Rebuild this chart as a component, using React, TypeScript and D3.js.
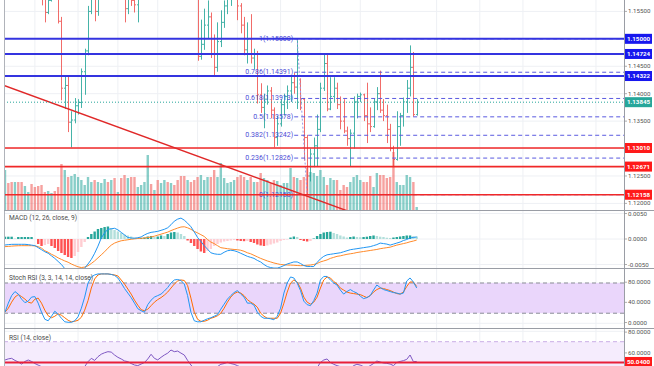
import React from "react";
import * as d3 from "d3";

// price bars (open = previous close)
const firstOpen = 1.16;
const closes = [
  1.1605, 1.1598, 1.1592, 1.1606, 1.16, 1.1594, 1.1602, 1.1608, 1.16, 1.1594,
  1.1588, 1.1575, 1.1548, 1.157, 1.1585, 1.158, 1.1532, 1.141, 1.1415, 1.1348,
  1.1352, 1.1378, 1.1384, 1.144, 1.1478, 1.155, 1.1586, 1.155, 1.159, 1.1602,
  1.1615, 1.1608, 1.162, 1.161, 1.1618, 1.1585, 1.1555, 1.1578, 1.157, 1.1562,
  1.158, 1.1592, 1.16, 1.1625, 1.1612, 1.1622, 1.1615, 1.1628, 1.1638, 1.1632,
  1.1645, 1.164, 1.1632, 1.162, 1.1605, 1.1612, 1.1598, 1.1585, 1.1468, 1.149,
  1.1525, 1.154, 1.15, 1.1448, 1.1495, 1.153, 1.156, 1.1575, 1.159, 1.16,
  1.156, 1.1525, 1.148, 1.15, 1.1465, 1.1472, 1.1398, 1.1375, 1.139, 1.1405,
  1.137, 1.132, 1.1345, 1.138, 1.1395, 1.1405, 1.142, 1.1412, 1.1432, 1.139,
  1.132, 1.125, 1.129, 1.1305, 1.1335, 1.141, 1.1455, 1.1372, 1.1395, 1.141,
  1.138, 1.135, 1.1332, 1.1318, 1.1328, 1.1385, 1.1395, 1.1398, 1.136, 1.1345,
  1.134, 1.1385, 1.14, 1.137, 1.136, 1.1335, 1.13, 1.128, 1.134, 1.136,
  1.1385, 1.141, 1.1448, 1.1362, 1.13845,
];
const highs = [
  1.1615, 1.161, 1.1604, 1.1612, 1.1612, 1.1606, 1.1608, 1.1615, 1.1612, 1.1604,
  1.1598, 1.1592, 1.1578, 1.158, 1.1595, 1.1592, 1.1585, 1.154, 1.1432, 1.1432,
  1.1368, 1.1392, 1.139, 1.1446, 1.1482, 1.156, 1.1595, 1.1598, 1.1605, 1.1615,
  1.1625, 1.1622, 1.163, 1.1624, 1.1626, 1.162, 1.159, 1.1585, 1.1592, 1.158,
  1.159, 1.1598, 1.161, 1.1632, 1.163, 1.163, 1.1632, 1.1636, 1.1645, 1.1648,
  1.1652, 1.1655, 1.165, 1.164, 1.1628, 1.162, 1.1618, 1.1605, 1.159, 1.1535,
  1.1555, 1.157, 1.1548, 1.1508, 1.153, 1.1552, 1.157, 1.159, 1.1605, 1.1615,
  1.1605, 1.1565, 1.154, 1.153, 1.1545, 1.1482, 1.1478, 1.1419, 1.14, 1.1415,
  1.1412, 1.1375, 1.136, 1.139, 1.14, 1.1415, 1.1432, 1.1438, 1.15, 1.1428,
  1.1392, 1.1325, 1.13, 1.132, 1.1362, 1.142, 1.1474, 1.1474, 1.143, 1.143,
  1.142, 1.1395, 1.139, 1.134, 1.1335, 1.1395, 1.14, 1.1402, 1.14, 1.142,
  1.1375, 1.1392, 1.1412, 1.1442, 1.139, 1.138, 1.1345, 1.1305, 1.1368, 1.1365,
  1.1393, 1.1425, 1.1488, 1.1476, 1.139,
];
const lows = [
  1.1595, 1.159, 1.1586, 1.1588, 1.1594, 1.1585, 1.1588, 1.1598, 1.1592, 1.1586,
  1.158, 1.1561, 1.153, 1.1545, 1.1568, 1.1572, 1.1528, 1.1388, 1.1372, 1.133,
  1.1302, 1.1346, 1.1362, 1.1374, 1.1398, 1.147, 1.1545, 1.1532, 1.1542, 1.158,
  1.1592, 1.1596, 1.16, 1.159, 1.1598, 1.1575, 1.153, 1.1545, 1.156, 1.1548,
  1.153, 1.1575, 1.1582, 1.1595, 1.16, 1.1605, 1.1605, 1.1612, 1.162, 1.1622,
  1.1628, 1.163, 1.1622, 1.161, 1.1595, 1.1592, 1.1585, 1.1576, 1.146, 1.1462,
  1.148, 1.15, 1.1465, 1.1433, 1.144, 1.1485, 1.152, 1.1545, 1.156, 1.1575,
  1.1534, 1.151, 1.147, 1.1455, 1.1455, 1.1445, 1.1382, 1.1365, 1.1337, 1.138,
  1.1355, 1.1302, 1.1305, 1.134, 1.136, 1.1372, 1.1385, 1.14, 1.1372, 1.137,
  1.1278, 1.12158, 1.124, 1.1266, 1.1268, 1.133, 1.1405, 1.1368, 1.137, 1.1385,
  1.1372, 1.1335, 1.1328, 1.1305, 1.1268, 1.13, 1.1355, 1.1385, 1.135, 1.131,
  1.133, 1.1338, 1.137, 1.1365, 1.135, 1.131, 1.1295, 1.1266, 1.1278, 1.1305,
  1.134, 1.1365, 1.1395, 1.1358, 1.136,
];
const volumes = [
  40, 27, 28, 28, 28, 28, 24, 18, 26, 23, 24, 25, 18, 19, 17, 19, 23, 46, 40, 33,
  34, 36, 33, 30, 25, 33, 28, 30, 28, 27, 31, 28, 30, 32, 18, 32, 35, 32, 33, 33,
  23, 25, 28, 55, 26, 20, 30, 27, 30, 28, 27, 25, 30, 34, 34, 30, 28, 30, 33, 35,
  30, 33, 33, 40, 33, 47, 32, 27, 28, 30, 33, 35, 33, 30, 33, 28, 28, 37, 32, 30,
  27, 30, 29, 25, 27, 27, 42, 33, 32, 30, 33, 42, 38, 37, 34, 40, 33, 25, 32, 30,
  30, 20, 25, 23, 28, 33, 35, 30, 28, 28, 34, 23, 37, 35, 35, 32, 33, 58, 28, 25,
  25, 35, 33, 28, 3,
];

// MACD (12, 26, close, 9), values x 1e-4
const macdLine = [
  -11.8, -11, -10.5, -10.4, -10.4, -10.4, -10.4, -11, -12, -13,
  -17, -21, -25, -28, -33, -38, -44, -50, -58, -66,
  -72, -73, -70, -64, -57, -49, -40, -28, -14, 2,
  12, 19, 20, 21, 18, 13, 8, 3, 2, 1.5,
  2.5, 4, 8, 11, 13, 14, 15, 17, 19, 22,
  28, 35, 39, 41, 37, 31, 24, 14, 3, -5,
  -13, -20, -27, -29, -30, -30, -26, -23, -22, -23,
  -25, -28, -31, -34, -36, -38, -42, -45, -50, -54,
  -56, -57, -57, -55, -52, -49, -47, -45, -45, -48,
  -52, -54, -54, -54, -46, -39, -34, -31, -30, -29,
  -28, -27, -25, -23, -21, -20, -19, -18, -17, -16,
  -15, -13, -11, -8, -9, -10, -12, -10, -8, -6,
  -3, -1, 2, 3, 4,
];
const signalLine = [
  -15, -14.5, -14, -13.5, -13.2, -13.1, -13.1, -13.1, -13.1, -13.5,
  -15, -18, -23, -26, -30, -33, -37, -40, -43, -45.5,
  -49, -52, -54.5, -56, -55, -52.5, -48, -43, -37, -31,
  -25, -18, -12, -8, -5.5, -3.5, -2.5, -1.5, -0.5, 0.3,
  1, 1.5, 2, 2.7, 4, 5.5, 7.5, 9.5, 11.5, 13.5,
  16.5, 19, 21.5, 23.5, 24, 22, 19, 15, 12, 8.5,
  5, -1, -6, -9, -13, -17, -18, -19, -19.8, -20.5,
  -21, -22, -24, -27, -29, -32, -35, -38, -40.5, -43,
  -45, -47, -48.5, -50, -50.5, -51, -51.2, -51.5, -52, -52.3,
  -52, -51.5, -51, -50, -48, -45, -43, -41, -38, -36,
  -34, -33, -31.5, -30, -29, -28, -26.5, -25.5, -24.5, -23.5,
  -22.5, -21.5, -20.5, -19, -18, -17, -16, -14, -12, -10.5,
  -9, -7.5, -5.5, -4, -2,
];
const macdHist = [
  4.5, 4.5, 4.5, 1, 3.9, 3.9, 3.9, 3.9, 3.9, 0,
  -9.8, -13.7, -11.8, -9.8, -13.7, -17.6, -23.5, -27.4, -31.4, -35.3,
  -37.2, -33.3, -25.5, -15.7, -5.9, 3.9, 9.8, 14.7, 19.6, 21.6,
  23.5, 24.5, 21.6, 17.6, 14.7, 11.8, 8.8, 6.9, 4.9, 2.9,
  1.6, 2, 2.9, 4.9, 5.9, 3.9, 4.9, 6.9, 5.9, 9.8,
  12.7, 13.7, 12.7, 9.8, 5.9, -2.9, -7.8, -13.7, -19.6, -24.5,
  -27.4, -23.5, -19.6, -13.7, -9.8, -6.9, -4.9, -3.9, -2.9, -2,
  -2.9, -3.9, -4.3, -3.9, -5.9, -7.8, -10.8, -12.7, -13.7, -12.7,
  -10.8, -8.8, -6.9, -3.9, -2, -1, 2.9, 4.9, 3.9, -2,
  -3.9, -4.9, -3.9, 1, 5.9, 9.8, 12.7, 13.7, 14.3, 11.8,
  9.8, 6.9, 4.9, 2.9, 3.9, 4.9, 3.9, 3.5, 3.9, 4.5,
  5.9, 6.9, 5.9, 4.5, 3.9, 2.5, 2, 2.9, 3.9, 4.9,
  5.9, 6.9, 6.9, 5.5, 4.9,
];

// Stoch RSI (3, 3, 14, 14, close)
const stochK = [
  22, 40, 55, 63, 58, 48, 41, 44, 52, 53, 40, 22, 8, 5, 14, 24, 18, 10, 3, 2,
  2, 5, 13, 30, 52, 80, 92, 96, 98, 98, 98, 98, 97, 95, 90, 80, 69, 60, 51, 40,
  29, 25, 22, 37, 46, 52, 55, 58, 64, 71, 80, 86, 87, 85, 78, 55, 22, 5, 3, 3,
  6, 9, 11, 14, 17, 28, 38, 48, 55, 61, 65, 58, 52, 40, 40, 36, 22, 14, 10, 10,
  9, 7, 14, 30, 60, 80, 92, 90, 80, 65, 44, 37, 35, 45, 60, 86, 93, 93, 86, 80,
  76, 66, 58, 63, 67, 63, 60, 54, 49, 51, 55, 66, 76, 71, 67, 65, 63, 61, 60, 58,
  60, 84, 90, 82, 70,
];
const stochD = [
  22, 30, 42, 52, 57, 53, 48, 42, 40, 48, 50, 40, 26, 15, 11, 14, 19, 16, 11, 6,
  3, 4, 6, 12, 26, 45, 70, 88, 96, 98, 98, 98, 97, 96, 94, 86, 78, 68, 58, 46,
  36, 27, 25, 28, 35, 42, 47, 51, 56, 62, 70, 78, 84, 86, 85, 75, 50, 22, 8, 4,
  4, 6, 10, 12, 15, 20, 30, 42, 52, 59, 62, 60, 55, 47, 42, 38, 32, 20, 14, 10,
  10, 10, 10, 20, 40, 62, 80, 86, 82, 70, 52, 42, 38, 42, 52, 70, 86, 92, 90, 83,
  78, 70, 66, 62, 60, 59, 58, 57, 54, 51, 55, 62, 67, 70, 69, 67, 65, 62, 59, 58,
  62, 73, 82, 82, 73,
];

// RSI (14, close)
const rsiLine = [
  52.4, 53.5, 54, 52, 50.5, 48.5, 51, 52.4, 51, 49, 47.5, 46, 45, 45.5, 46, 44, 42, 37, 38, 36,
  37, 39, 40, 43, 46, 50.8, 54, 52, 55.6, 58, 59.4, 60.4, 60, 57.2, 55, 53.4, 51.5, 50.8, 49, 47.6,
  47, 48.5, 50, 53.4, 57.9, 54, 52.5, 55, 57.2, 59, 62, 60.4, 61, 59, 57.2, 52, 47.6, 44, 42, 43.5,
  42.5, 44, 43, 44.5, 46, 48.3, 49, 50.2, 49, 48.3, 47, 45.5, 44, 45, 43, 44, 41, 40, 41, 42,
  40, 37, 39, 41, 42, 43, 44, 43, 46, 43, 39, 36, 39, 41, 45, 50, 52.4, 53.4, 50, 48.3,
  47, 46, 45.5, 44, 44.5, 47, 48.3, 47.5, 46, 45, 47, 49, 51.4, 50.5, 49.5, 49.2, 48.5, 47, 50, 51,
  51.8, 53, 57.2, 50.8, 51,
];

// drawings and axes
const priceTicks = [1.155, 1.15, 1.145, 1.14, 1.135, 1.13, 1.125, 1.12];
const blueLevels = [1.15, 1.14724, 1.14322];
const redLevels = [1.1301, 1.12671, 1.12158];
const lastPrice = 1.13845;
const fibRatios = ["1", "0.786", "0.618", "0.5", "0.382", "0.236", "0"];
const fibPrices = [1.15, 1.14391, 1.13913, 1.13578, 1.13242, 1.12826, 1.12158];
const fibIdx = [88, 91];
const trendA = [-0.3, 1.14151];
const trendB = [64.8, 1.12711];
const timeGridIdx = [9, 22, 34, 46, 58, 70, 83, 95, 107, 130, 143, 156, 178];
const macdTicks = [50, 0, -50];
const stochTicks = [80, 40, 0];
const rsiTicks = [80, 60];
const rsiLevel = 50.04;

const L = 4;
const R = 624;
const UP = "#26a69a";
const DOWN = "#ef5350";
const GRID = "#eef0f4";
const FONT = "Roboto, sans-serif";

export default function App() {
  const n = closes.length;
  const opens = closes.map((c, i) => (i === 0 ? firstOpen : closes[i - 1]));

  const x = d3.scaleLinear().domain([0, n - 1]).range([5, 416.7]);
  const yP = d3.scaleLinear().domain([1.12, 1.155]).range([203.4, 11.4]);
  const yV = d3.scaleLinear().domain([0, 60]).range([210, 150]);
  const yM = d3.scaleLinear().domain([-50, 50]).range([264.5, 213.5]);
  const yS = d3.scaleLinear().domain([0, 80]).range([323.3, 283]);
  const yR = d3.scaleLinear().domain([50, 70]).range([362.5, 341.7]);

  const lineOf = (scale) =>
    d3.line<number>().x((_, i) => x(i)).y((d) => scale(d));

  const slope = (trendB[1] - trendA[1]) / (trendB[0] - trendA[0]);
  const trendEndI = 120;
  const trendEndP = trendA[1] + slope * (trendEndI - trendA[0]);

  const fibLeft = x(Math.min(...fibIdx)) - 3;

  const axisLabel = (y, text, key, fill = "#555") => (
    <g key={key}>
      <line x1={R} x2={R + 3} y1={y} y2={y} stroke="#999" strokeWidth={0.8} />
      <text x={628} y={y} fontSize={6.2} fill={fill} dominantBaseline="central">
        {text}
      </text>
    </g>
  );
  const boxLabel = (y, text, bg, key) => (
    <g key={key}>
      <rect x={625} y={y - 5} width={27} height={10} fill={bg} />
      <text x={638.5} y={y + 0.3} fontSize={6.2} fill="#fff" textAnchor="middle" dominantBaseline="central" fontWeight="bold">
        {text}
      </text>
    </g>
  );

  return (
    <svg width={654} height={366} style={{ position: "fixed", left: 0, top: 0, background: "#fff" }} fontFamily={FONT}>
      <defs>
        <clipPath id="cp-price"><rect x={L} y={0} width={R - L} height={210} /></clipPath>
        <clipPath id="cp-macd"><rect x={L} y={211} width={R - L} height={57} /></clipPath>
        <clipPath id="cp-stoch"><rect x={L} y={268.5} width={R - L} height={59.5} /></clipPath>
        <clipPath id="cp-rsi"><rect x={L} y={328.5} width={R - L} height={38} /></clipPath>
      </defs>
      <rect x={0} y={0} width={654} height={366} fill="#fff" />

      {/* grids */}
      {timeGridIdx.map((g) => (
        <line key={"tg" + g} x1={x(g)} x2={x(g)} y1={0} y2={366} stroke={GRID} strokeWidth={1} />
      ))}
      {priceTicks.map((p) => (
        <line key={"pg" + p} x1={L} x2={R} y1={yP(p)} y2={yP(p)} stroke={GRID} />
      ))}
      {macdTicks.map((v) => (
        <line key={"mg" + v} x1={L} x2={R} y1={yM(v)} y2={yM(v)} stroke={GRID} />
      ))}
      {stochTicks.map((v) => (
        <line key={"sg" + v} x1={L} x2={R} y1={yS(v)} y2={yS(v)} stroke={GRID} />
      ))}
      {rsiTicks.map((v) => (
        <line key={"rg" + v} x1={L} x2={R} y1={yR(v)} y2={yR(v)} stroke={GRID} />
      ))}

      {/* price pane */}
      <g clipPath="url(#cp-price)">
        {volumes.map((v, i) => (
          <rect
            key={"v" + i}
            x={x(i) - 1.2}
            y={yV(v)}
            width={2.4}
            height={210 - yV(v)}
            fill={closes[i] >= opens[i] ? "rgba(38,166,154,0.55)" : "rgba(239,83,80,0.55)"}
          />
        ))}
        {closes.map((c, i) => {
          const col = c >= opens[i] ? UP : DOWN;
          const xi = Math.round(x(i)) + 0.5;
          return (
            <g key={"b" + i} stroke={col} strokeWidth={1} opacity={0.85}>
              <line x1={xi} x2={xi} y1={yP(highs[i])} y2={yP(lows[i])} />
              <line x1={xi - 1.5} x2={xi} y1={yP(opens[i])} y2={yP(opens[i])} />
              <line x1={xi} x2={xi + 1.5} y1={yP(c)} y2={yP(c)} />
            </g>
          );
        })}

        {/* fib retracement */}
        <line
          x1={x(fibIdx[0])}
          y1={yP(fibPrices[0])}
          x2={x(fibIdx[1])}
          y2={yP(fibPrices[fibPrices.length - 1])}
          stroke="#9a9ae6"
          strokeDasharray="2,2"
          strokeWidth={1}
        />
        {fibPrices.map((p, k) => (
          <g key={"fib" + k}>
            <line x1={fibLeft} x2={R} y1={yP(p)} y2={yP(p)} stroke="#5a5ae0" strokeDasharray="4,3" strokeWidth={1} />
            <text x={fibLeft - 1} y={yP(p)} fontSize={7} fill="#4b4bd6" textAnchor="end" dominantBaseline="central">
              {`${fibRatios[k]}(${p.toFixed(5)})`}
            </text>
          </g>
        ))}

        {blueLevels.map((p) => (
          <line key={"bl" + p} x1={L} x2={R} y1={yP(p)} y2={yP(p)} stroke="#3434e0" strokeWidth={2} />
        ))}
        {redLevels.map((p) => (
          <line key={"rl" + p} x1={L} x2={R} y1={yP(p)} y2={yP(p)} stroke="#f02828" strokeWidth={1.6} />
        ))}
        <line
          x1={x(trendA[0])}
          y1={yP(trendA[1])}
          x2={x(trendEndI)}
          y2={yP(trendEndP)}
          stroke="#e02828"
          strokeWidth={1.4}
        />
        <line x1={L} x2={R} y1={yP(lastPrice)} y2={yP(lastPrice)} stroke={UP} strokeDasharray="1,2" strokeWidth={1} />
      </g>

      {/* MACD pane */}
      <g clipPath="url(#cp-macd)">
        {macdHist.map((h, i) => {
          const prev = i === 0 ? 0 : macdHist[i - 1];
          const col = h >= 0 ? (h >= prev ? "#26a69a" : "#b2dfdb") : h < prev ? "#ff5252" : "#ffcdd2";
          return (
            <rect
              key={"h" + i}
              x={x(i) - 1.2}
              y={Math.min(yM(0), yM(h))}
              width={2.4}
              height={Math.abs(yM(h) - yM(0))}
              fill={col}
            />
          );
        })}
        <path d={lineOf(yM)(signalLine) || ""} fill="none" stroke="#ff8a2a" strokeWidth={1} />
        <path d={lineOf(yM)(macdLine) || ""} fill="none" stroke="#2196f3" strokeWidth={1} />
      </g>

      {/* Stoch RSI pane */}
      <g clipPath="url(#cp-stoch)">
        <rect x={L} y={yS(80)} width={R - L} height={yS(20) - yS(80)} fill="#ead6fb" />
        <line x1={L} x2={R} y1={yS(80)} y2={yS(80)} stroke="#8a8d96" strokeDasharray="4,3" />
        <line x1={L} x2={R} y1={yS(20)} y2={yS(20)} stroke="#8a8d96" strokeDasharray="4,3" />
        <path d={lineOf(yS)(stochD) || ""} fill="none" stroke="#ff6d00" strokeWidth={1} />
        <path d={lineOf(yS)(stochK) || ""} fill="none" stroke="#2196f3" strokeWidth={1} />
      </g>

      {/* RSI pane */}
      <g clipPath="url(#cp-rsi)">
        <rect x={L} y={yR(70)} width={R - L} height={yR(30) - yR(70)} fill="#f5ecfd" />
        <line x1={L} x2={R} y1={yR(70)} y2={yR(70)} stroke="#c9aee6" strokeDasharray="4,3" />
        <path d={lineOf(yR)(rsiLine) || ""} fill="none" stroke="#7e57c2" strokeWidth={1} />
        <line x1={L} x2={R} y1={yR(rsiLevel)} y2={yR(rsiLevel)} stroke="#e8203a" strokeWidth={2} />
      </g>

      {/* pane titles */}
      <text x={9} y={217.5} fontSize={6.6} fill="#4a4a4a" dominantBaseline="central">MACD (12, 26, close, 9)</text>
      <text x={9} y={277.5} fontSize={6.6} fill="#4a4a4a" dominantBaseline="central">Stoch RSI (3, 3, 14, 14, close)</text>
      <text x={9} y={337.5} fontSize={6.6} fill="#4a4a4a" dominantBaseline="central">RSI (14, close)</text>

      {/* separators and borders */}
      <line x1={L + 0.5} x2={L + 0.5} y1={0} y2={366} stroke="#b0b3ba" />
      <line x1={R + 0.5} x2={R + 0.5} y1={0} y2={366} stroke="#9a9da5" />
      {[210.5, 268.5, 328.5].map((y) => (
        <line key={"sep" + y} x1={L} x2={654} y1={y} y2={y} stroke="#9a9da5" />
      ))}

      {/* right axis */}
      {priceTicks.map((p) => axisLabel(yP(p), p.toFixed(5), "pt" + p))}
      {macdTicks.map((v) => axisLabel(yM(v), (v / 1e4).toFixed(4), "mt" + v))}
      {stochTicks.map((v) => axisLabel(yS(v) - 0.8, v.toFixed(4), "st" + v))}
      {rsiTicks.map((v) => axisLabel(yR(v) + 0.8, v.toFixed(4), "rt" + v))}

      {blueLevels.map((p) => boxLabel(yP(p), p.toFixed(5), "#1717ee", "bb" + p))}
      {redLevels.map((p) => boxLabel(yP(p), p.toFixed(5), "#ff1a1a", "rb" + p))}
      {boxLabel(yP(lastPrice), lastPrice.toFixed(5), "#26a69a", "last")}
      {boxLabel(yR(rsiLevel) - 0.5, rsiLevel.toFixed(4), "#ff1a1a", "rsilvl")}
    </svg>
  );
}
